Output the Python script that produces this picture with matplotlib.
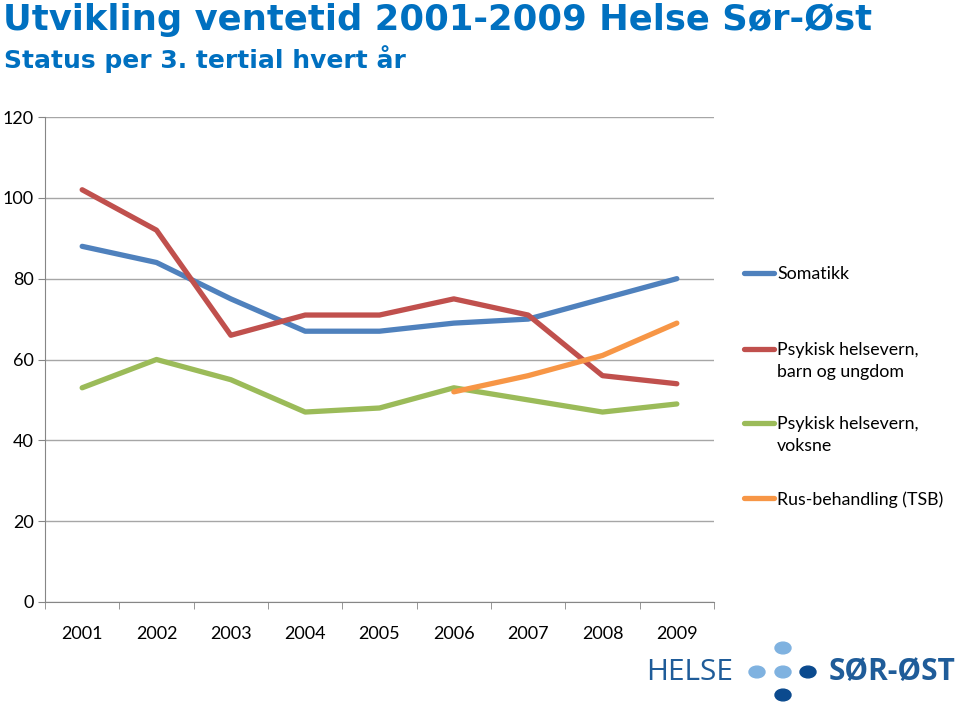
import numpy as np
import matplotlib
matplotlib.use("Agg")
import matplotlib.pyplot as plt
from matplotlib.lines import Line2D
from matplotlib.patches import Circle

# data
aar = ["2001", "2002", "2003", "2004", "2005", "2006", "2007", "2008", "2009"]
somatikk = [88, 84, 75, 67, 67, 69, 70, 75, 80]
psyk_barn = [102, 92, 66, 71, 71, 75, 71, 56, 54]
psyk_voksne = [53, 60, 55, 47, 48, 53, 50, 47, 49]
rus = [np.nan, np.nan, np.nan, np.nan, np.nan, 52, 56, 61, 69]

serier = [
    ("Somatikk", somatikk, "#4F81BD"),
    ("Psykisk helsevern,\nbarn og ungdom", psyk_barn, "#C0504D"),
    ("Psykisk helsevern,\nvoksne", psyk_voksne, "#9BBB59"),
    ("Rus-behandling (TSB)", rus, "#F79646"),
]

W, H = 960, 704
fig = plt.figure(figsize=(W / 100, H / 100), dpi=100)
ax = fig.add_axes([45 / W, 1 - 602 / H, 669 / W, 485 / H])

tekst_font = ["Lato", "DejaVu Sans"]
tittel_font = ["DejaVu Sans"]

x = np.arange(len(aar))
for navn, verdier, farge in serier:
    ax.plot(x, verdier, color=farge, lw=3.8, solid_capstyle="round",
            solid_joinstyle="round", zorder=3)

ax.set_xlim(-0.5, len(aar) - 0.5)
ax.set_ylim(0, 120)
ax.set_yticks(range(0, 121, 20))
ax.set_xticks(x)
ax.set_xticklabels(aar, family=tekst_font, fontsize=13)
for t in ax.get_yticklabels():
    t.set_family(tekst_font)
    t.set_fontsize(13)
ax.set_xticks(np.arange(-0.5, len(aar)), minor=True)
ax.tick_params(axis="x", which="major", length=0, pad=17)
ax.tick_params(axis="x", which="minor", length=5, color="#868686")
ax.tick_params(axis="y", length=5, color="#868686", pad=3)
ax.grid(axis="y", color="#A6A6A6", lw=1)
ax.set_axisbelow(True)
for s in ["top", "right"]:
    ax.spines[s].set_visible(False)
for s in ["left", "bottom"]:
    ax.spines[s].set_color("#868686")

# legende
leg_y = [273, 349, 423, 498]
for (navn, verdier, farge), y in zip(serier, leg_y):
    fy = 1 - y / H
    fig.add_artist(Line2D([744 / W, 774 / W], [fy, fy], color=farge, lw=3.8,
                          solid_capstyle="round"))
    fig.text(777 / W, fy + 7 / H, navn, family=tekst_font, fontsize=12.8,
             va="top", ha="left", linespacing=1.45)

# tittel
fig.text(3 / W, 1 - 3 / H, "Utvikling ventetid 2001-2009 Helse Sør-Øst",
         family=tittel_font, fontsize=25.5, weight="bold", color="#0070C0",
         va="top", ha="left")
fig.text(4 / W, 1 - 45 / H, "Status per 3. tertial hvert år",
         family=tittel_font, fontsize=18, weight="bold", color="#0070C0",
         va="top", ha="left")

# logo
fig.text(646 / W, 1 - 672 / H, "HELSE", family=["Open Sans", "DejaVu Sans"],
         fontsize=21.5, color="#1F5C99", va="center", ha="left")
fig.text(829 / W, 1 - 672 / H, "SØR-ØST", family=["Open Sans", "DejaVu Sans"],
         fontsize=21.5, weight="bold", color="#1F5C99", va="center", ha="left")
lys, mork = "#7FB2E0", "#0B4A8E"
prikker = [(783, 648, lys), (757, 672, lys), (783, 672, lys),
           (808, 672, mork), (783, 695, mork)]
for px, py, c in prikker:
    fig.add_artist(Circle((px / W, 1 - py / H), 8 / W, color=c,
                          transform=fig.transFigure))

fig.savefig("out.png", dpi=100)
